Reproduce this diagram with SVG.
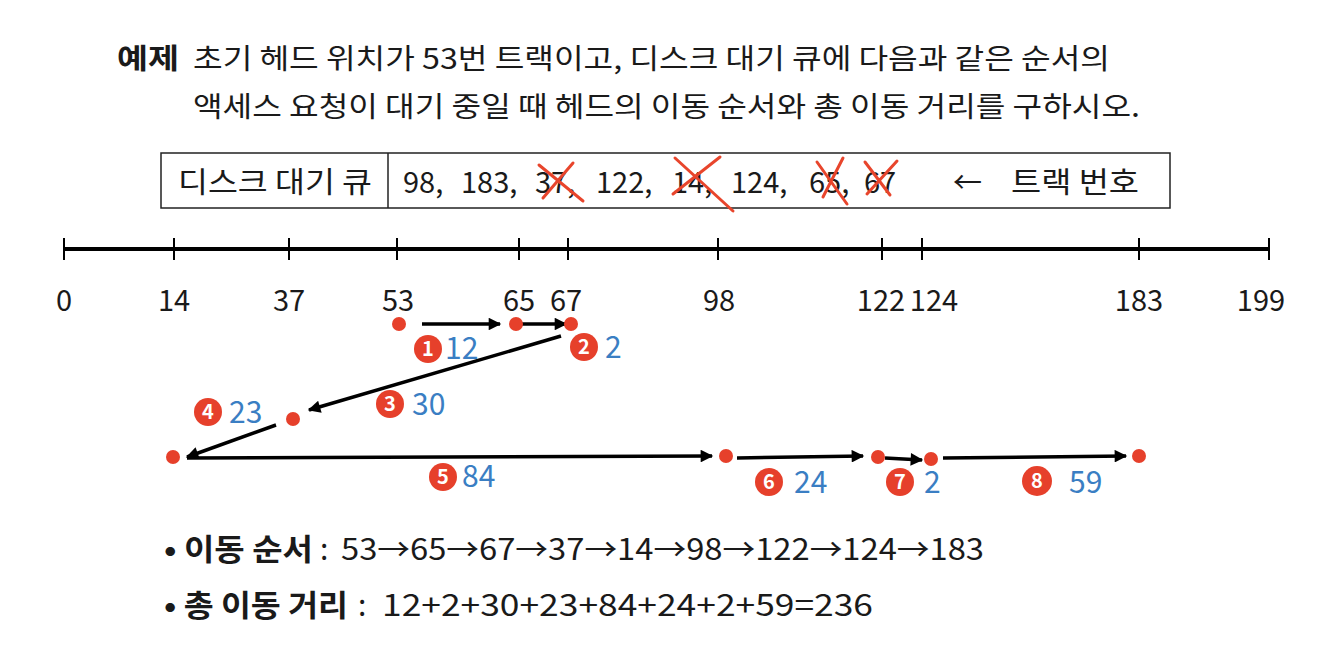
<svg xmlns="http://www.w3.org/2000/svg" width="1332" height="652" viewBox="0 0 1332 652">
<style>
text{font-family:"Noto Sans CJK KR","Noto Sans",sans-serif;fill:#1a1a1a}
.t{font-size:28px}
.b{font-weight:bold}
.ax{font-size:29px;text-anchor:middle}
.q{font-size:29px}
.blue{font-size:30px;fill:#3a7ec3}
.num{font-size:20px;font-weight:bold;fill:#fff;text-anchor:middle}
.dot{fill:#e6402b}
.badge{fill:#e6402b}
.x{stroke:#e8452c;stroke-width:3;stroke-linecap:round;fill:none}
.ar{stroke:#000;stroke-width:3.5;fill:none;marker-end:url(#ah)}
.axis{stroke:#000;stroke-width:4;fill:none}
.tick{stroke:#000;stroke-width:2;fill:none}
.bot{font-size:30px}
</style>
<defs>
<marker id="ah" viewBox="0 0 10 10" refX="9" refY="5" markerWidth="4" markerHeight="3.6" orient="auto" markerUnits="strokeWidth">
<path d="M0,0 L10,5 L0,10 z" fill="#000"/>
</marker>
</defs>

<g id="title">
<text class="t b" x="117" y="69" textLength="62" lengthAdjust="spacingAndGlyphs">예제</text>
<text class="t" x="193" y="69" textLength="917" lengthAdjust="spacingAndGlyphs">초기 헤드 위치가 53번 트랙이고, 디스크 대기 큐에 다음과 같은 순서의</text>
<text class="t" x="193" y="117" textLength="947" lengthAdjust="spacingAndGlyphs">액세스 요청이 대기 중일 때 헤드의 이동 순서와 총 이동 거리를 구하시오.</text>
</g>

<g id="queue-table">
<rect x="161" y="153" width="1009" height="55" fill="none" stroke="#222" stroke-width="1.5"/>
<line x1="388" y1="153" x2="388" y2="208" stroke="#222" stroke-width="1.5"/>
<text class="q" x="178" y="193" textLength="194" lengthAdjust="spacingAndGlyphs">디스크 대기 큐</text>
<text class="q" y="193"><tspan x="403">98,</tspan><tspan x="461">183,</tspan><tspan x="535">37,</tspan><tspan x="596">122,</tspan><tspan x="672">14,</tspan><tspan x="731">124,</tspan><tspan x="809">65,</tspan><tspan x="864">67</tspan></text>
<text class="q" x="953" y="193">←</text>
<text class="q" x="1011" y="193" textLength="128" lengthAdjust="spacingAndGlyphs">트랙 번호</text>
</g>

<g id="crossouts">
<path class="x" d="M539,165 L583,201 M573,163 L543,198"/>
<path class="x" d="M675,158 L733,211 M720,157 L673,194"/>
<path class="x" d="M817,162 L847,204 M843,158 L823,197"/>
<path class="x" d="M865,162 L890,195 M897,161 L867,194"/>
</g>

<g id="axis">
<line class="axis" x1="64" y1="249" x2="1269" y2="249"/>
<path class="tick" d="M64,238V260 M174,238V260 M289,238V260 M397,238V260 M519,238V260 M568,238V260 M718,238V260 M882,238V260 M922,238V260 M1139,238V260 M1269,238V260"/>
<text class="ax" x="64" y="311">0</text>
<text class="ax" x="174" y="311">14</text>
<text class="ax" x="289" y="311">37</text>
<text class="ax" x="398" y="311">53</text>
<text class="ax" x="519" y="311">65</text>
<text class="ax" x="566" y="311">67</text>
<text class="ax" x="719" y="311">98</text>
<text class="ax" x="881" y="311">122</text>
<text class="ax" x="934" y="311">124</text>
<text class="ax" x="1139" y="311">183</text>
<text class="ax" x="1261" y="311">199</text>
</g>

<g id="connectors">
<line class="ar" x1="422" y1="324" x2="500" y2="324"/>
<line class="ar" x1="522" y1="324" x2="566" y2="324"/>
<line class="ar" x1="561" y1="336" x2="309" y2="410"/>
<line class="ar" x1="276" y1="425" x2="187" y2="457"/>
<line class="ar" x1="187" y1="458" x2="712" y2="456"/>
<line class="ar" x1="737" y1="458" x2="863" y2="456"/>
<line class="ar" x1="885" y1="458" x2="922" y2="460"/>
<line class="ar" x1="943" y1="458" x2="1126" y2="456"/>
</g>

<g id="points">
<circle class="dot" cx="399" cy="324" r="7"/>
<circle class="dot" cx="516" cy="324" r="7"/>
<circle class="dot" cx="571" cy="324" r="7"/>
<circle class="dot" cx="293" cy="419" r="7"/>
<circle class="dot" cx="173" cy="457" r="7"/>
<circle class="dot" cx="726" cy="456" r="7"/>
<circle class="dot" cx="878" cy="457" r="7"/>
<circle class="dot" cx="931" cy="459" r="7"/>
<circle class="dot" cx="1139" cy="456" r="7"/>
</g>

<g id="step1"><circle class="badge" cx="428" cy="349" r="14"/><text class="num" x="428" y="356">1</text><text class="blue" x="445" y="359">12</text></g>
<g id="step2"><circle class="badge" cx="584" cy="347" r="14"/><text class="num" x="584" y="354">2</text><text class="blue" x="605" y="358">2</text></g>
<g id="step3"><circle class="badge" cx="390" cy="404" r="14"/><text class="num" x="390" y="411">3</text><text class="blue" x="412" y="415">30</text></g>
<g id="step4"><circle class="badge" cx="208" cy="412" r="14"/><text class="num" x="208" y="419">4</text><text class="blue" x="229" y="423">23</text></g>
<g id="step5"><circle class="badge" cx="443" cy="477" r="14"/><text class="num" x="443" y="484">5</text><text class="blue" x="462" y="487">84</text></g>
<g id="step6"><circle class="badge" cx="769" cy="482" r="14"/><text class="num" x="769" y="489">6</text><text class="blue" x="794" y="493">24</text></g>
<g id="step7"><circle class="badge" cx="900" cy="482" r="14"/><text class="num" x="900" y="489">7</text><text class="blue" x="924" y="493">2</text></g>
<g id="step8"><circle class="badge" cx="1037" cy="481" r="15"/><text class="num" x="1037" y="488">8</text><text class="blue" x="1069" y="493">59</text></g>

<g id="summary">
<text class="bot b" x="164" y="560" textLength="149" lengthAdjust="spacingAndGlyphs">• 이동 순서</text>
<text class="bot" x="320" y="560">:</text>
<text class="bot" x="341" y="560" textLength="643" lengthAdjust="spacingAndGlyphs">53→65→67→37→14→98→122→124→183</text>
<text class="bot b" x="164" y="616" textLength="184" lengthAdjust="spacingAndGlyphs">• 총 이동 거리</text>
<text class="bot" x="358" y="616">:</text>
<text class="bot" x="382" y="616" textLength="491" lengthAdjust="spacingAndGlyphs">12+2+30+23+84+24+2+59=236</text>
</g>
</svg>
